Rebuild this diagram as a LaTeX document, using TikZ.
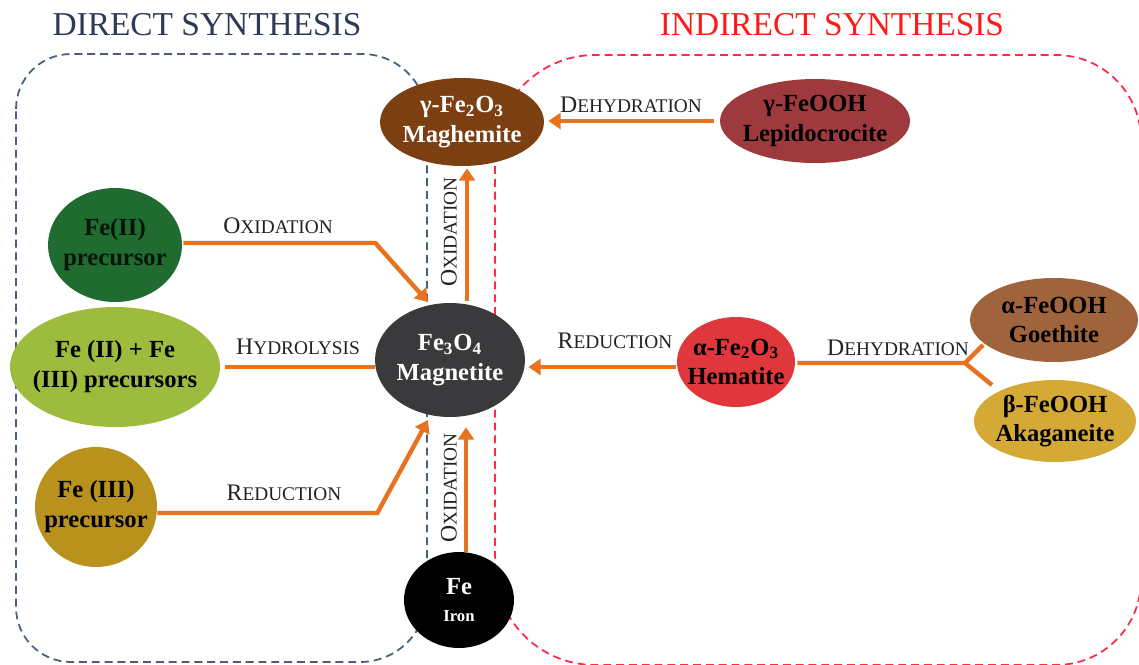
\documentclass[tikz,border=0pt]{standalone}
\usepackage{fontspec}
\setmainfont{Liberation Serif}
\usetikzlibrary{shapes.geometric,arrows.meta,calc}
\definecolor{orangeA}{HTML}{E8731F}
\definecolor{blueD}{HTML}{46617F}
\definecolor{redD}{HTML}{FF2A4A}
\definecolor{titleB}{HTML}{2E3A55}
\definecolor{titleR}{HTML}{FF1A1A}
\definecolor{cMagh}{HTML}{7B3F12}
\definecolor{cLepi}{HTML}{9E3A3D}
\definecolor{cFeII}{HTML}{1F6B30}
\definecolor{cFeIIIII}{HTML}{9DBB3C}
\definecolor{cFeIII}{HTML}{B8921C}
\definecolor{cMagn}{HTML}{3A3A3C}
\definecolor{cHema}{HTML}{E0373C}
\definecolor{cGoet}{HTML}{A0643C}
\definecolor{cAkag}{HTML}{D4A936}
\definecolor{lblc}{HTML}{222222}
\newcommand\fakesc[2]{{\fontsize{13.5}{15}\selectfont #1}{\fontsize{11}{13}\selectfont #2}}
\tikzset{
  blob/.style={ellipse, inner xsep=-30pt, inner ysep=-12pt, align=center, font=\fontsize{14}{17}\selectfont\bfseries},
  arr/.style={draw=orangeA, line width=2.5pt, line join=miter, -{Triangle[length=7pt,width=9pt]}},
  link/.style={draw=orangeA, line width=2.5pt, line join=miter},
  lbl/.style={text=lblc, inner sep=0pt},
  bluebox/.style={draw=blueD, line width=1pt, dash pattern=on 4.5pt off 2.8pt},
  redbox/.style={draw=redD, line width=1pt, dash pattern=on 4.5pt off 2.8pt},
  ttl/.style={inner sep=0pt, font=\fontsize{19}{22}\selectfont}
}
\begin{document}
\begin{tikzpicture}[x=0.02cm, y=-0.02cm]
\useasboundingbox (0,0) rectangle (1139,664);
\clip (0,0) rectangle (1139,664);
\fill[white] (0,0) rectangle (1139,664);

% dashed regions
\draw[bluebox] (16,109) arc[start angle=180, end angle=270, radius=55]
  -- (362,54) arc[start angle=270, end angle=360, radius=65]
  -- (427,595) arc[start angle=0, end angle=90, radius=67]
  -- (71,662) arc[start angle=90, end angle=180, radius=55] -- cycle;
\draw[redbox] (495,155) arc[start angle=180, end angle=270, radius=100]
  -- (1056,55) arc[start angle=270, end angle=360, radius=85]
  -- (1141,580) arc[start angle=0, end angle=90, radius=85]
  -- (595,665) arc[start angle=90, end angle=180, radius=100] -- cycle;

% titles
\node[ttl, text=titleB] (tdirect) at (207,25) {DIRECT SYNTHESIS};
\node[ttl, text=titleR] (tindirect) at (832,25) {INDIRECT SYNTHESIS};

% nodes
\node[blob, fill=cMagh, text=white, minimum width=3.28cm, minimum height=1.76cm] (magh) at (462,122) {γ-Fe\textsubscript{2}O\textsubscript{3}\\Maghemite};
\node[blob, fill=cLepi, text=black, minimum width=3.8cm, minimum height=1.68cm] (lepi) at (815,121) {γ-FeOOH\\Lepidocrocite};
\node[blob, fill=cFeII, text={black!80!cFeII}, minimum width=2.68cm, minimum height=2.28cm] (fe2) at (115,245) {Fe(II)\\precursor};
\node[blob, fill=cFeIIIII, text=black, minimum width=4.2cm, minimum height=2.4cm] (fe23) at (115,367) {Fe (II) + Fe\\(III) precursors};
\node[blob, fill=cFeIII, text=black, minimum width=2.44cm, minimum height=2.4cm] (fe3) at (96,507) {Fe (III)\\precursor};
\node[blob, fill=cMagn, text=white, minimum width=3.0cm, minimum height=2.28cm] (magn) at (450,360) {Fe\textsubscript{3}O\textsubscript{4}\\Magnetite};
\node[blob, fill=cHema, text=black, minimum width=2.36cm, minimum height=1.8cm] (hema) at (736,362) {α-Fe\textsubscript{2}O\textsubscript{3}\\Hematite};
\node[blob, fill=cGoet, text=black, minimum width=3.36cm, minimum height=1.68cm] (goet) at (1054,320) {α-FeOOH\\Goethite};
\node[blob, fill=cAkag, text=black, minimum width=3.24cm, minimum height=1.64cm] (akag) at (1055,421) {β-FeOOH\\Akaganeite};
\node[blob, fill=black, text=white, minimum width=2.2cm, minimum height=1.92cm] (fe) at (459,600) {Fe\\[-2pt]{\fontsize{9.5}{11}\selectfont Iron}};

% connectors
\draw[arr] ($(lepi.west)+(-6,0)$) -- ($(magh.east)+(4,-1)$);
\draw[arr] ($(magn.north)+(17,-2)$) -- ($(magh.south)+(5,2)$);
\draw[arr] ($(fe.north)+(7,0)$) -- ($(magn.south)+(16,10)$);
\draw[arr] ($(hema.west)+(-1,5)$) -- ($(magn.east)+(3,7)$);
\draw[arr] ($(fe2.east)+(1,-2)$) -- ++(192,0) -- ($(magn.center)+(-22,-58)$);
\draw[arr] ($(fe3.east)+(0,6)$) -- ++(220,0) -- ($(magn.center)+(-22,60)$);
\draw[link] ($(fe23.east)+(5,0)$) -- ($(magn.west)+(0,7)$);
\coordinate (fork) at (965,363);
\draw[link] ($(hema.east)+(2,1)$) -- (fork) -- ($(goet.center)+(-71,25)$);
\draw[link] (fork) -- ($(akag.center)+(-63,-36)$);

% labels
\node[lbl] (l1) at (631,105) {\fakesc{D}{EHYDRATION}};
\node[lbl] (l2) at (278,226) {\fakesc{O}{XIDATION}};
\node[lbl] (l3) at (298,347) {\fakesc{H}{YDROLYSIS}};
\node[lbl] (l4) at (284,493) {\fakesc{R}{EDUCTION}};
\node[lbl] (l5) at (615,341) {\fakesc{R}{EDUCTION}};
\node[lbl] (l6) at (898,348) {\fakesc{D}{EHYDRATION}};
\node[lbl, rotate=90] (l7) at (449,232) {\fakesc{O}{XIDATION}};
\node[lbl, rotate=90] (l8) at (449,488) {\fakesc{O}{XIDATION}};
\end{tikzpicture}
\end{document}
